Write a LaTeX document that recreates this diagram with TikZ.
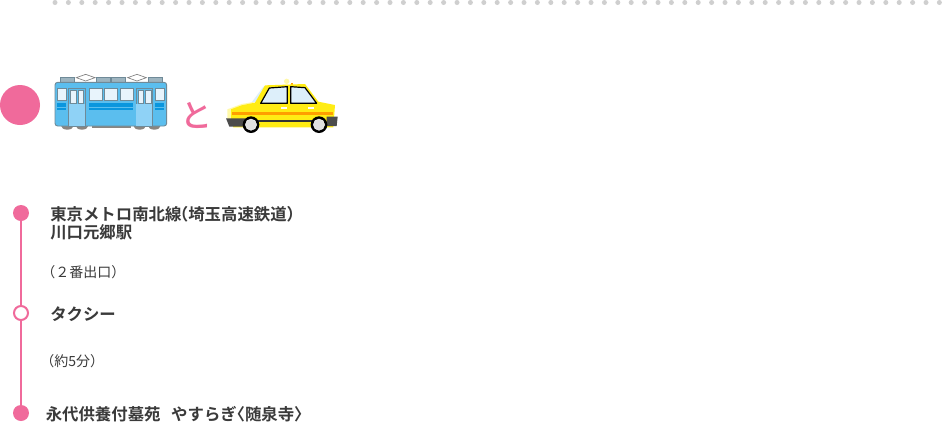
\documentclass[tikz,border=0pt]{standalone}
\usepackage{fontspec}
\newfontfamily\jp{Noto Sans CJK JP}
\newfontfamily\jpb{Noto Sans CJK JP Bold}
\newfontfamily\jphalt[RawFeature=+halt]{Noto Sans CJK JP Bold}
\newfontfamily\jpto{Noto Sans CJK JP Medium}
\definecolor{pinkc}{HTML}{F06A9B}
\definecolor{ink}{HTML}{3A3A3A}
\definecolor{dotc}{HTML}{CFCFCF}
\definecolor{trainb}{HTML}{5BBEEE}
\definecolor{traind}{HTML}{0A96DE}
\definecolor{trainl}{HTML}{8FD2F6}
\definecolor{trainw}{HTML}{E8F4FC}
\definecolor{traing}{HTML}{6F8A98}
\definecolor{roofg}{HTML}{9DB4BF}
\definecolor{wheelg}{HTML}{8A8580}
\definecolor{taxiy}{HTML}{FFEC14}
\definecolor{taxip}{HTML}{FFF9A8}
\definecolor{taxio}{HTML}{FF9E00}
\definecolor{taxiw}{HTML}{DDEFFA}
\tikzset{
 head/.style={font=\jpb\fontsize{12.3pt}{14pt}\selectfont,text=ink,anchor=west,inner sep=0pt},
 note/.style={font=\jp\fontsize{10.5pt}{12pt}\selectfont,text=ink,anchor=west,inner sep=0pt},
 stopfull/.style={circle,fill=pinkc,minimum size=12pt,inner sep=0pt},
 stopopen/.style={circle,draw=pinkc,fill=white,line width=1.5pt,minimum size=10.5pt,inner sep=0pt},
 route/.style={draw=pinkc,line width=1.5pt},
 twin/.style={fill=trainw,draw=traing,line width=.3pt},
 stripe/.style={fill=traind},
 zoomed/.style={x=.25pt,y=-.25pt},
}
\begin{document}
\begin{tikzpicture}[x=.75pt,y=-.75pt]
\useasboundingbox[fill=white] (0,0) rectangle (942,422);
\foreach \i in {0,...,66} \fill[dotc] ({55+13.4*\i},2.5) circle[radius=2.5];
\node[circle,fill=pinkc,minimum size=30pt,inner sep=0pt] (big) at (20,105) {};
% train
\begin{scope}[shift={(0,60)},zoomed]
 \foreach \a/\b in {180/222,290/332,335/377,445/487}
  \filldraw[fill=roofg,draw=traing,line width=.3pt] (\a,53) rectangle (\b,66);
 \foreach \c in {257,411}
  \draw[fill=white,draw=gray,line width=.5pt] (\c-28,53)--(\c,43)--(\c+28,53)--(\c,63)--cycle;
 \foreach \c in {202,246,419,463}
  \fill[wheelg] (\c-19,197) arc[start angle=180,end angle=0,x radius=19,y radius=12]--cycle;
 \fill[wheelg] (277,197) rectangle (392,205);
 \filldraw[fill=trainb,draw=traing,line width=.7pt,rounded corners=2pt] (165,67) rectangle (500,198);
 \foreach \a/\b in {172/198,267/400,466/492}{
  \fill[stripe] (\a,129) rectangle (\b,142);
  \fill[stripe] (\a,145) rectangle (\b,149);}
 \foreach \a/\b in {172/198,267/306,313/352,360/400,466/492}
  \filldraw[twin] (\a,86) rectangle (\b,122);
 \foreach \a in {206,408}{
  \filldraw[fill=trainb,draw=traing,line width=.7pt] (\a,86) rectangle (\a+50,198);
  \fill[trainl] ({\a+1},133) rectangle (\a+49,197);
  \filldraw[twin] (\a+6,92) rectangle (\a+23,130);
  \filldraw[twin] (\a+28,92) rectangle (\a+45,130);}
\end{scope}
\node[font=\jpto\fontsize{24pt}{24pt}\selectfont,text=pinkc,inner sep=0pt] (to) at (196.5,115) {と};
% taxi
\begin{scope}[shift={(170,60)},zoomed]
 \fill[taxip] (350,64) circle[radius=8];
 \fill[taxio] (362,68) rectangle (370,74);
 \fill[taxiw] (245,127) -- (280,80) -- (290,80) -- (262,127) -- cycle;
 \fill[taxip] (172,178) -- (172,148) -- (215,132) -- (250,126) -- (260,178) -- cycle;
 \fill[taxiy] (183,175) -- (183,148) -- (215,136) -- (255,128) -- (285,76) -- (405,72) -- (445,125) -- (495,135) -- (492,175) -- (490,202) -- (190,202) -- cycle;
 \fill[taxio] (187,155) rectangle (490,165);
 \filldraw[fill=taxiw,draw=black,line width=.9pt,line join=round] (272,130) -- (298,84) -- (352,80) -- (352,130) -- cycle;
 \filldraw[fill=taxiw,draw=black,line width=.9pt,line join=round] (362,80) -- (405,83) -- (440,130) -- (362,130) -- cycle;
 \fill[white] (333,142) rectangle (352,147);
 \fill[white] (413,142) rectangle (432,147);
 \fill[black!80] (225,180) rectangle (430,187);
 \fill[black!70] (168,175) -- (225,175) -- (225,200) -- (178,200) -- cycle;
 \fill[black!70] (470,170) -- (503,170) -- (500,198) -- (470,198) -- cycle;
 \foreach \c in {243,447}{
  \fill[black] (\c,194) circle[radius=25];
  \filldraw[fill=black!12,draw=white,line width=.3pt] (\c,194) circle[radius=17];}
\end{scope}
% route
\node[stopfull] (s1) at (21,213) {};
\node[stopopen] (s2) at (21,313) {};
\node[stopfull] (s3) at (21,413) {};
\draw[route] (s1) -- (s2);
\draw[route] (s2) -- (s3);
\node[head] (t1) at (50,214) {東京メトロ南北線\kern-1pt{\jphalt（}埼玉高速鉄道{\jphalt ）}};
\node[head] (t2) at (50,232.5) {川口元郷駅};
\node[note] (t3) at (41,272) {（２番出口）};
\node[head] (t4) at (50,314) {タクシー};
\node[note] (t5) at (40,361) {（約5分）};
\node[head] (t6) at (45.5,414.5) {永代供養付墓苑\hspace{8pt}やすらぎ{\jphalt 〈}随泉寺{\jphalt 〉}};
\end{tikzpicture}
\end{document}
